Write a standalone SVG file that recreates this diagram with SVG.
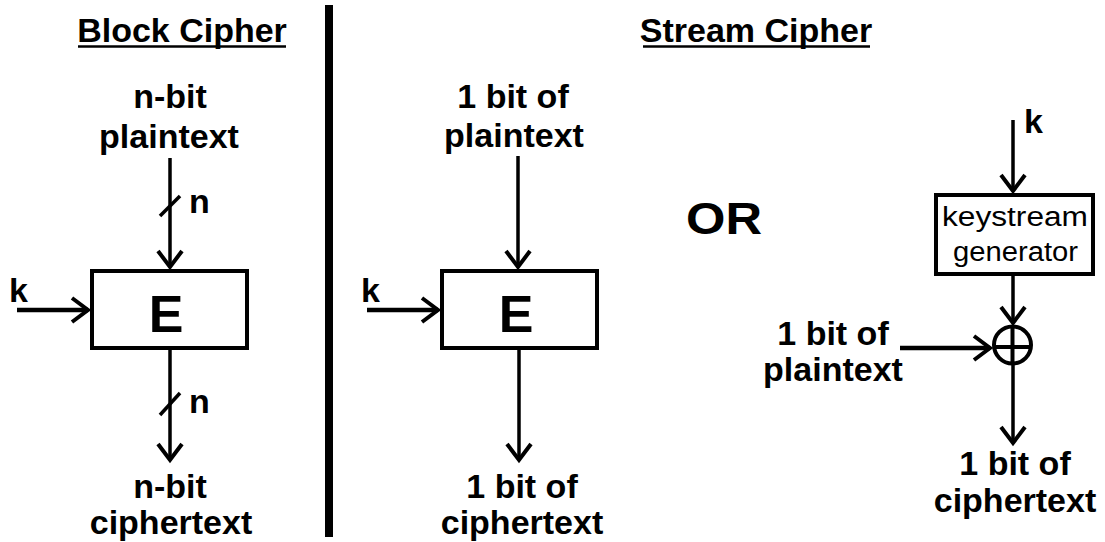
<svg xmlns="http://www.w3.org/2000/svg" width="1105" height="542" viewBox="0 0 1105 542">
  <style>
    .lbl { font-family: "Liberation Sans", Arial, sans-serif; font-weight: bold; font-size: 34px; fill: #000; }
    .ttl { font-family: "Liberation Sans", Arial, sans-serif; font-weight: bold; font-size: 34px; fill: #000; }
    .big { font-family: "Liberation Sans", Arial, sans-serif; font-weight: bold; font-size: 52px; fill: #000; }
    .or { font-family: "Liberation Sans", Arial, sans-serif; font-weight: bold; font-size: 44px; fill: #000; }
    .reg { font-family: "Liberation Sans", Arial, sans-serif; font-size: 27px; fill: #000; }
    .box { fill: #fff; stroke: #000; stroke-width: 4; }
    .wire { fill: none; stroke: #000; stroke-width: 3.5; }
    .heavy { fill: none; stroke: #000; stroke-width: 4.5; }
  </style>
  <defs>
    <marker id="arr" markerUnits="userSpaceOnUse" markerWidth="40" markerHeight="40" refX="0" refY="0" orient="auto" overflow="visible">
      <path d="M-16,-12 L0,0 L-16,12" fill="none" stroke="#000" stroke-width="4"/>
    </marker>
  </defs>
  <rect width="1105" height="542" fill="#fff"/>

  <!-- section titles -->
  <g id="titles">
    <text class="ttl" x="182" y="42" text-anchor="middle">Block Cipher</text>
    <line x1="78" y1="46.5" x2="286" y2="46.5" stroke="#000" stroke-width="2.5"/>
    <text class="ttl" x="756" y="42" text-anchor="middle">Stream Cipher</text>
    <line x1="643" y1="46.5" x2="870" y2="46.5" stroke="#000" stroke-width="2.5"/>
  </g>

  <!-- divider between the two halves -->
  <rect id="divider" x="325" y="5" width="8" height="532" fill="#000"/>

  <!-- block cipher -->
  <g id="block-in">
    <text class="lbl" x="170" y="108" text-anchor="middle">n-bit</text>
    <text class="lbl" x="169" y="148" text-anchor="middle">plaintext</text>
  </g>
  <g id="block-E">
    <rect class="box" x="92" y="271" width="155" height="77"/>
    <text class="big" x="166" y="332" text-anchor="middle">E</text>
  </g>
  <g id="block-k"><text class="lbl" x="9" y="302">k</text></g>
  <g id="block-out">
    <text class="lbl" x="170" y="498" text-anchor="middle">n-bit</text>
    <text class="lbl" x="171" y="534" text-anchor="middle">ciphertext</text>
  </g>
  <g id="block-width">
    <line class="wire" x1="160" y1="216" x2="180" y2="196"/>
    <text class="lbl" x="189" y="213">n</text>
    <line class="wire" x1="160" y1="415" x2="180" y2="393"/>
    <text class="lbl" x="189" y="413">n</text>
  </g>

  <!-- stream cipher, single-bit E -->
  <g id="mid-in">
    <text class="lbl" x="513" y="108" text-anchor="middle">1 bit of</text>
    <text class="lbl" x="514" y="147" text-anchor="middle">plaintext</text>
  </g>
  <g id="mid-E">
    <rect class="box" x="442" y="271" width="155" height="77"/>
    <text class="big" x="516" y="332" text-anchor="middle">E</text>
  </g>
  <g id="mid-k"><text class="lbl" x="361" y="302">k</text></g>
  <g id="mid-out">
    <text class="lbl" x="522" y="498" text-anchor="middle">1 bit of</text>
    <text class="lbl" x="522" y="534" text-anchor="middle">ciphertext</text>
  </g>

  <g id="or"><text class="or" x="686" y="234" textLength="76" lengthAdjust="spacingAndGlyphs">OR</text></g>

  <!-- stream cipher, keystream generator + XOR -->
  <g id="ks-k"><text class="lbl" x="1024" y="133">k</text></g>
  <g id="keystream">
    <rect class="box" x="936" y="195" width="157" height="79"/>
    <text class="reg" x="942" y="226" textLength="146" lengthAdjust="spacingAndGlyphs">keystream</text>
    <text class="reg" x="953" y="261" textLength="125" lengthAdjust="spacingAndGlyphs">generator</text>
  </g>
  <g id="xor">
    <circle cx="1012.5" cy="345" r="18.5" fill="#fff" stroke="#000" stroke-width="4"/>
    <line x1="994" y1="347" x2="1031" y2="347" stroke="#000" stroke-width="4"/>
    <line x1="1012.5" y1="327" x2="1012.5" y2="363" stroke="#000" stroke-width="4"/>
  </g>
  <g id="ks-in">
    <text class="lbl" x="833" y="345" text-anchor="middle">1 bit of</text>
    <text class="lbl" x="833" y="381" text-anchor="middle">plaintext</text>
  </g>
  <g id="ks-out">
    <text class="lbl" x="1015" y="475" text-anchor="middle">1 bit of</text>
    <text class="lbl" x="1015" y="512" text-anchor="middle">ciphertext</text>
  </g>

  <!-- connectors -->
  <g id="connectors">
    <line class="wire" x1="170" y1="158" x2="170" y2="267" marker-end="url(#arr)"/>
    <line class="heavy" x1="17" y1="310" x2="88" y2="310" marker-end="url(#arr)"/>
    <line class="wire" x1="170" y1="350" x2="170" y2="460" marker-end="url(#arr)"/>

    <line class="wire" x1="518" y1="156" x2="518" y2="267" marker-end="url(#arr)"/>
    <line class="heavy" x1="367" y1="310" x2="438" y2="310" marker-end="url(#arr)"/>
    <line class="wire" x1="519" y1="350" x2="519" y2="460" marker-end="url(#arr)"/>

    <line class="wire" x1="1013" y1="120" x2="1013" y2="191" marker-end="url(#arr)"/>
    <line class="wire" x1="1013" y1="276" x2="1013" y2="323" marker-end="url(#arr)"/>
    <line class="heavy" x1="900" y1="348" x2="990" y2="348" marker-end="url(#arr)"/>
    <line class="wire" x1="1013" y1="365" x2="1013" y2="443" marker-end="url(#arr)"/>
  </g>
</svg>
